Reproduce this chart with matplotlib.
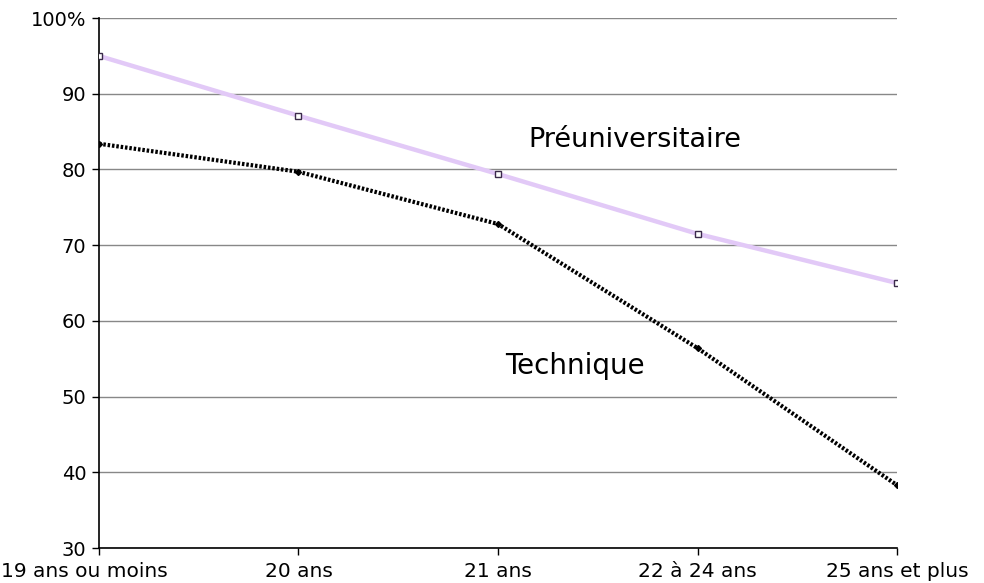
import matplotlib.pyplot as plt
import matplotlib.transforms as mtransforms

plt.rcParams['font.family'] = ['DejaVu Sans']

categories = ['19 ans ou moins', '20 ans', '21 ans', '22 à 24 ans', '25 ans et plus']
preuniversitaire = [95.0, 87.1, 79.4, 71.5, 65.0]
technique = [83.4, 79.7, 72.8, 56.4, 38.3]
yticks = [30, 40, 50, 60, 70, 80, 90, 100]
ytick_labels = ['30', '40', '50', '60', '70', '80', '90', '100%']

fig = plt.figure(figsize=(9.84, 5.83), dpi=100)
ax = fig.add_axes([0.1006, 0.06, 0.811, 0.909])

x = range(len(categories))
ax.plot(x, preuniversitaire, color='#E2C9F7', lw=3.2, zorder=3,
        marker='s', ms=4, mfc='white', mec='#3a2a4a', mew=1.0)
ax.plot(x, technique, color='black', lw=3, ls=(0, (0.6, 0.45)), zorder=4,
        marker='D', ms=3, mfc='black', mec='black')

ax.set_xlim(0, len(categories) - 1)
ax.set_ylim(30, 100)
ax.set_xticks(list(x))
ax.set_xticklabels(categories, fontsize=14.5)
ax.set_yticks(yticks)
ax.set_yticklabels(ytick_labels, fontsize=14)
ax.grid(axis='y', color='#888888', lw=1)
ax.set_axisbelow(True)

for s in ['top', 'right']:
    ax.spines[s].set_visible(False)
ax.spines['left'].set_linewidth(1.2)
ax.spines['bottom'].set_linewidth(1.2)
ax.tick_params(axis='both', direction='out', length=5, width=1)
ax.tick_params(axis='x', pad=5)
ax.tick_params(axis='y', pad=4)

# first category label is pushed left so it stays inside the image, like the original
first = ax.get_xticklabels()[0]
first.set_transform(first.get_transform() +
                    mtransforms.ScaledTranslation(-0.15, 0, fig.dpi_scale_trans))

ax.text(2.15, 83.0, 'Préuniversitaire', fontsize=19.5, ha='left', va='baseline')
ax.text(2.035, 53.0, 'Technique', fontsize=20, ha='left', va='baseline')

fig.savefig('out.png', dpi=100)
